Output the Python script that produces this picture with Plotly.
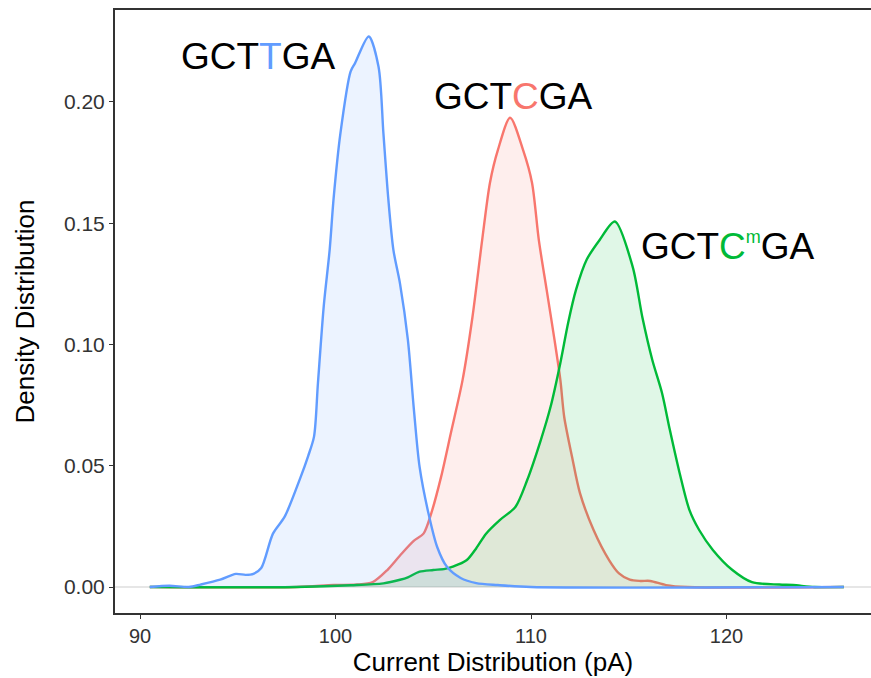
import plotly.graph_objects as go

# ---- data (current in pA, density) ----
tga_x = [90.5, 91.5, 92.5, 93.1, 94.1, 94.9, 95.4, 95.8, 96.2, 96.8, 97.4, 98.2, 98.6, 98.9,
         99.1, 99.4, 99.7, 99.9, 100.25, 100.77, 101.0, 101.7, 102.2, 102.45, 102.7, 102.96,
         103.3, 103.7, 104.0, 104.3, 104.75, 105.2, 105.7, 106.4, 107.2, 108.3, 110.0, 126.0]
tga_y = [0, 0.0005, 0, 0.001, 0.003, 0.0054, 0.005, 0.0054, 0.0078, 0.022, 0.029, 0.045, 0.054, 0.062,
         0.084, 0.116, 0.139, 0.16, 0.187, 0.2125, 0.216, 0.227, 0.2145, 0.187, 0.16, 0.139,
         0.125, 0.102, 0.074, 0.0495, 0.0305, 0.0165, 0.0083, 0.0037, 0.0016, 0.0008, 0, 0]

cga_x = [90.5, 98.0, 99.9, 101.1, 101.9, 102.65, 103.3, 104.0, 104.5, 104.9, 105.4, 105.9, 106.5,
         107.0, 107.5, 107.9, 108.3, 108.93, 109.6, 110.05, 110.4, 110.8, 111.2, 111.5, 111.7,
         112.1, 112.5, 113.2, 114.0, 114.5, 115.05, 115.6, 116.1, 116.9, 118.0, 126.0]
cga_y = [0, 0, 0.0008, 0.001, 0.002, 0.007, 0.013, 0.019, 0.022, 0.0305, 0.0454, 0.0635, 0.0854,
         0.111, 0.143, 0.1667, 0.18, 0.1935, 0.18, 0.1667, 0.143, 0.1225, 0.102, 0.0854, 0.070,
         0.0536, 0.0388, 0.0235, 0.011, 0.0056, 0.003, 0.0025, 0.0025, 0.0008, 0, 0]

cmga_x = [90.5, 98.0, 100.8, 102.45, 103.3, 103.7, 104.3, 105.0, 105.6, 106.0, 106.7, 107.2, 107.7,
          108.4, 109.2, 109.8, 110.5, 111.0, 111.5, 111.9, 112.3, 112.85, 113.5, 114.29, 115.2,
          115.7, 116.2, 116.7, 117.1, 117.6, 118.1, 118.6, 119.3, 120.3, 121.3, 122.7, 123.4,
          124.5, 126.0]
cmga_y = [0, 0, 0.0007, 0.0015, 0.003, 0.004, 0.0063, 0.007, 0.0075, 0.0084, 0.011, 0.016, 0.022,
          0.0276, 0.033, 0.044, 0.0606, 0.0743, 0.0924, 0.109, 0.1225, 0.135, 0.143, 0.1507, 0.132,
          0.111, 0.0937, 0.080, 0.0648, 0.047, 0.0318, 0.0235, 0.0153, 0.007, 0.002, 0.001, 0.0008,
          0, 0]

x_ticks = [90, 100, 110, 120]
y_ticks = [0.00, 0.05, 0.10, 0.15, 0.20]
y_tick_labels = ["0.00", "0.05", "0.10", "0.15", "0.20"]

BLUE, RED, GREEN = "#619CFF", "#F8766D", "#00BA38"
FONT = "Liberation Sans, Arial, Helvetica, sans-serif"


def rgba(hex_color, a):
    h = hex_color.lstrip("#")
    r, g, b = int(h[0:2], 16), int(h[2:4], 16), int(h[4:6], 16)
    return f"rgba({r},{g},{b},{a})"


fig = go.Figure()
for xs, ys, col, name in [(cga_x, cga_y, RED, "GCTCGA"),
                          (cmga_x, cmga_y, GREEN, "GCTCmGA"),
                          (tga_x, tga_y, BLUE, "GCTTGA")]:
    fig.add_trace(go.Scatter(
        x=xs, y=ys, mode="lines", name=name,
        line=dict(color=col, width=2.4, shape="spline", smoothing=0.8),
        fill="tozeroy", fillcolor=rgba(col, 0.12),
        hoverinfo="skip", showlegend=False,
    ))

ann_font = dict(family=FONT, size=37, color="#000000")
fig.add_annotation(x=96.04, y=0.2188, xref="x", yref="y", showarrow=False,
                   text=f"GCT<span style='color:{BLUE}'>T</span>GA",
                   font=ann_font, xanchor="center", yanchor="middle")
fig.add_annotation(x=109.1, y=0.2022, xref="x", yref="y", showarrow=False,
                   text=f"GCT<span style='color:{RED}'>C</span>GA",
                   font=ann_font, xanchor="center", yanchor="middle")
fig.add_annotation(x=120.05, y=0.1402, xref="x", yref="y", showarrow=False,
                   text=(f"GCT<span style='color:{GREEN}'>C</span>"
                         f"<sup><span style='color:{GREEN};font-size:18px'>m</span></sup>GA"),
                   font=ann_font, xanchor="center", yanchor="middle")

fig.update_layout(
    width=871, height=678,
    margin=dict(l=115, r=0, t=10, b=65),
    paper_bgcolor="white", plot_bgcolor="white",
    font=dict(family=FONT, color="#000000"),
    xaxis=dict(
        range=[88.72, 127.39], tickmode="array", tickvals=x_ticks,
        ticktext=[str(v) for v in x_ticks],
        showgrid=False, zeroline=False,
        showline=True, mirror=True, linecolor="#333333", linewidth=2,
        ticks="outside", ticklen=4, tickwidth=1, tickcolor="#333333",
        tickfont=dict(family=FONT, size=20, color="#333333"),
        title=dict(text="Current Distribution (pA)", standoff=6,
                   font=dict(family=FONT, size=26, color="#000000")),
    ),
    yaxis=dict(
        range=[-0.01072, 0.2379], tickmode="array", tickvals=y_ticks,
        ticktext=y_tick_labels,
        showgrid=False, zeroline=True, zerolinecolor="#E6E6E6", zerolinewidth=2,
        showline=True, mirror=False, linecolor="#333333", linewidth=2,
        ticks="outside", ticklen=4, tickwidth=1, tickcolor="#333333",
        tickfont=dict(family=FONT, size=21, color="#333333"),
        title=dict(text="Density Distribution", standoff=22,
                   font=dict(family=FONT, size=26, color="#000000")),
    ),
)

fig.write_html("out.html")
